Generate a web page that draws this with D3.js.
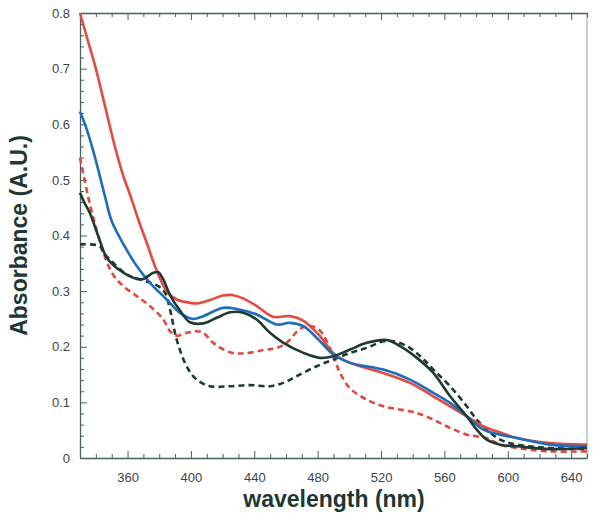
<!DOCTYPE html>
<html>
<head>
<meta charset="utf-8">
<script src="https://cdn.jsdelivr.net/npm/d3@7"></script>
<style>
  html, body { margin: 0; padding: 0; background: #ffffff; }
  svg { display: block; }
</style>
</head>
<body>
<svg id="chart" width="600" height="519"></svg>
<script>
// ---- data ----
const xTickLabels = [360, 400, 440, 480, 520, 560, 600, 640];
const yTickLabels = [0, 0.1, 0.2, 0.3, 0.4, 0.5, 0.6, 0.7, 0.8];

const redSolidNm  = [330, 335, 340, 346, 352, 357, 362.6, 367, 372.1, 378, 384.7, 391, 399.4, 404.5, 412, 420.3, 426, 432.9, 441.6, 451.8, 462.6, 470.8, 481.5, 489.7, 500.5, 521.3, 538.3, 552.9, 563.6, 574.1, 584.4, 595.2, 605.7, 626.7, 650];
const redSolidAbs = [0.800, 0.750, 0.700, 0.630, 0.560, 0.510, 0.465, 0.427, 0.387, 0.340, 0.300, 0.285, 0.279, 0.278, 0.284, 0.292, 0.293, 0.287, 0.273, 0.254, 0.255, 0.247, 0.219, 0.189, 0.171, 0.153, 0.135, 0.111, 0.093, 0.075, 0.057, 0.046, 0.036, 0.027, 0.024];

const blueNm  = [330, 334, 339.5, 345.8, 350, 357.3, 365.8, 374.2, 384.7, 393.1, 401.5, 407.8, 420.5, 428.9, 441.5, 454.1, 462.6, 471, 481.5, 489.9, 500.5, 521.5, 538.3, 553, 563.6, 574.1, 584.6, 595.2, 605.7, 626.7, 650];
const blueAbs = [0.623, 0.593, 0.540, 0.470, 0.426, 0.385, 0.345, 0.315, 0.285, 0.261, 0.250, 0.255, 0.270, 0.268, 0.258, 0.240, 0.243, 0.237, 0.210, 0.186, 0.171, 0.159, 0.141, 0.117, 0.099, 0.075, 0.051, 0.042, 0.036, 0.024, 0.021];

const darkSolidNm  = [330, 333, 336.3, 342.6, 346.9, 355.3, 365.8, 370, 376.3, 379.4, 382.6, 386.8, 393.1, 399.4, 407.8, 416.3, 424.7, 433.1, 441.5, 449.9, 458.4, 471, 481.5, 489.9, 500.5, 511, 523.6, 532, 542.6, 553, 563.6, 574.1, 580.4, 586.7, 595.2, 605.7, 626.7, 650];
const darkSolidAbs = [0.477, 0.458, 0.440, 0.390, 0.360, 0.337, 0.322, 0.322, 0.333, 0.334, 0.321, 0.293, 0.265, 0.244, 0.242, 0.252, 0.262, 0.261, 0.249, 0.225, 0.207, 0.189, 0.180, 0.183, 0.195, 0.207, 0.212, 0.201, 0.180, 0.153, 0.111, 0.075, 0.051, 0.033, 0.024, 0.021, 0.016, 0.018];

const redDashNm  = [330, 336.3, 340.5, 344.7, 348, 352, 357.3, 365.8, 374.2, 382.6, 386.8, 391, 397.3, 403.6, 407.8, 414.1, 424.7, 433.1, 445.7, 454.1, 460.4, 468.9, 475.2, 481.5, 489.9, 494.1, 500.5, 511, 521.5, 532, 542.6, 553, 563.6, 574.1, 580.4, 586.7, 595.2, 605.7, 626.7, 650];
const redDashAbs = [0.540, 0.455, 0.410, 0.370, 0.345, 0.325, 0.309, 0.291, 0.273, 0.249, 0.228, 0.220, 0.225, 0.228, 0.225, 0.207, 0.190, 0.188, 0.194, 0.198, 0.207, 0.232, 0.237, 0.229, 0.183, 0.153, 0.125, 0.105, 0.093, 0.087, 0.081, 0.069, 0.054, 0.042, 0.039, 0.036, 0.024, 0.018, 0.012, 0.012];

const darkDashNm  = [330, 342.6, 344.7, 348.9, 355.3, 361.6, 367.9, 374.2, 379.4, 383.7, 386.8, 391, 397.3, 403.6, 412.1, 424.7, 437.3, 449.9, 458.3, 466.7, 479.4, 489.9, 500.5, 511, 521.5, 527.8, 536.3, 544.7, 553, 563.6, 574.1, 580.4, 586.7, 595.2, 605.7, 626.7, 650];
const darkDashAbs = [0.384, 0.381, 0.369, 0.357, 0.339, 0.327, 0.321, 0.315, 0.309, 0.297, 0.267, 0.213, 0.165, 0.141, 0.129, 0.129, 0.131, 0.129, 0.135, 0.147, 0.165, 0.177, 0.189, 0.198, 0.210, 0.210, 0.201, 0.183, 0.159, 0.129, 0.093, 0.069, 0.051, 0.033, 0.024, 0.018, 0.016];

// ---- layout ----
const svg = d3.select("#chart");
const mLeft = 80, mRight = 587, mTop = 13, mBottom = 458;
const x = d3.scaleLinear().domain([330, 650]).range([mLeft, mRight]);
const y = d3.scaleLinear().domain([0, 0.8]).range([mBottom, mTop]);

const axisColor = "#47615d";
const tickTextColor = "#3d4543";
const titleColor = "#1d3833";
const fontFam = "Liberation Sans, Arial, sans-serif";

// right frame line
svg.append("line").attr("x1", mRight).attr("x2", mRight).attr("y1", mTop).attr("y2", mBottom)
  .attr("stroke", "#8fa3a0").attr("stroke-width", 1);

// bottom axis
const minorX = d3.range(330, 651, 10);
const gx = svg.append("g").attr("transform", `translate(0,${mBottom})`)
  .call(d3.axisBottom(x).tickValues(minorX).tickSize(0).tickFormat(""));
gx.select(".domain").attr("stroke", axisColor).attr("stroke-width", 1.3);
gx.selectAll(".tick line").remove();
gx.selectAll(".tick").append("line")
  .attr("y1", 0).attr("y2", d => xTickLabels.includes(d) ? -7 : -4)
  .attr("stroke", axisColor).attr("stroke-width", 1);
svg.append("g").attr("transform", `translate(0,${mBottom})`)
  .call(d3.axisBottom(x).tickValues(xTickLabels).tickSize(0).tickPadding(15).tickFormat(d3.format("d")))
  .call(g => g.select(".domain").remove())
  .selectAll("text").attr("font-family", fontFam)
  .attr("font-size", 13).attr("fill", tickTextColor);

// top axis (ticks only)
const gt = svg.append("g").attr("transform", `translate(0,${mTop})`)
  .call(d3.axisTop(x).tickValues(minorX).tickSize(0).tickFormat(""));
gt.select(".domain").attr("stroke", axisColor).attr("stroke-width", 1.3);
gt.selectAll(".tick line").remove();
gt.selectAll(".tick").append("line")
  .attr("y1", 0).attr("y2", d => xTickLabels.includes(d) ? 7 : 4)
  .attr("stroke", axisColor).attr("stroke-width", 1);

// left axis
const minorY = d3.range(0, 41).map(i => i * 0.02);
const gy = svg.append("g").attr("transform", `translate(${mLeft},0)`)
  .call(d3.axisLeft(y).tickValues(minorY).tickSize(0).tickFormat(""));
gy.select(".domain").attr("stroke", axisColor).attr("stroke-width", 1.3);
gy.selectAll(".tick line").remove();
gy.selectAll(".tick").append("line")
  .attr("x1", 0).attr("x2", (d, i) => i % 5 === 0 ? 7 : 4)
  .attr("stroke", axisColor).attr("stroke-width", 1);
svg.append("g").attr("transform", `translate(${mLeft},0)`)
  .call(d3.axisLeft(y).tickValues(yTickLabels).tickSize(0).tickPadding(10).tickFormat(d => d === 0 ? "0" : d3.format(".1f")(d)))
  .call(g => g.select(".domain").remove())
  .selectAll("text").attr("font-family", fontFam)
  .attr("font-size", 13).attr("fill", tickTextColor);

// series
const line = d3.line().x(d => x(d[0])).y(d => y(d[1])).curve(d3.curveCatmullRom.alpha(0.5));
const series = [
  { nm: redDashNm,   abs: redDashAbs,   color: "#e4473e", dash: "6,4" },
  { nm: darkDashNm,  abs: darkDashAbs,  color: "#1f3a33", dash: "6,4" },
  { nm: redSolidNm,  abs: redSolidAbs,  color: "#e8493f", dash: null },
  { nm: blueNm,      abs: blueAbs,      color: "#1c6cc0", dash: null },
  { nm: darkSolidNm, abs: darkSolidAbs, color: "#1f3a33", dash: null }
];
series.forEach(s => {
  svg.append("path")
    .datum(d3.zip(s.nm, s.abs))
    .attr("d", line)
    .attr("fill", "none")
    .attr("stroke", s.color)
    .attr("stroke-width", 2.6)
    .attr("stroke-linejoin", "round")
    .attr("stroke-dasharray", s.dash);
});

// titles
svg.append("text")
  .attr("x", 334).attr("y", 507)
  .attr("text-anchor", "middle")
  .attr("font-family", fontFam)
  .attr("font-weight", "bold").attr("font-size", 23)
  .attr("fill", titleColor)
  .text("wavelength (nm)");
svg.append("text")
  .attr("transform", `translate(27,${(mTop + mBottom) / 2}) rotate(-90)`)
  .attr("text-anchor", "middle")
  .attr("font-family", fontFam)
  .attr("font-weight", "bold").attr("font-size", 23)
  .attr("fill", titleColor)
  .text("Absorbance (A.U.)");
</script>
</body>
</html>
